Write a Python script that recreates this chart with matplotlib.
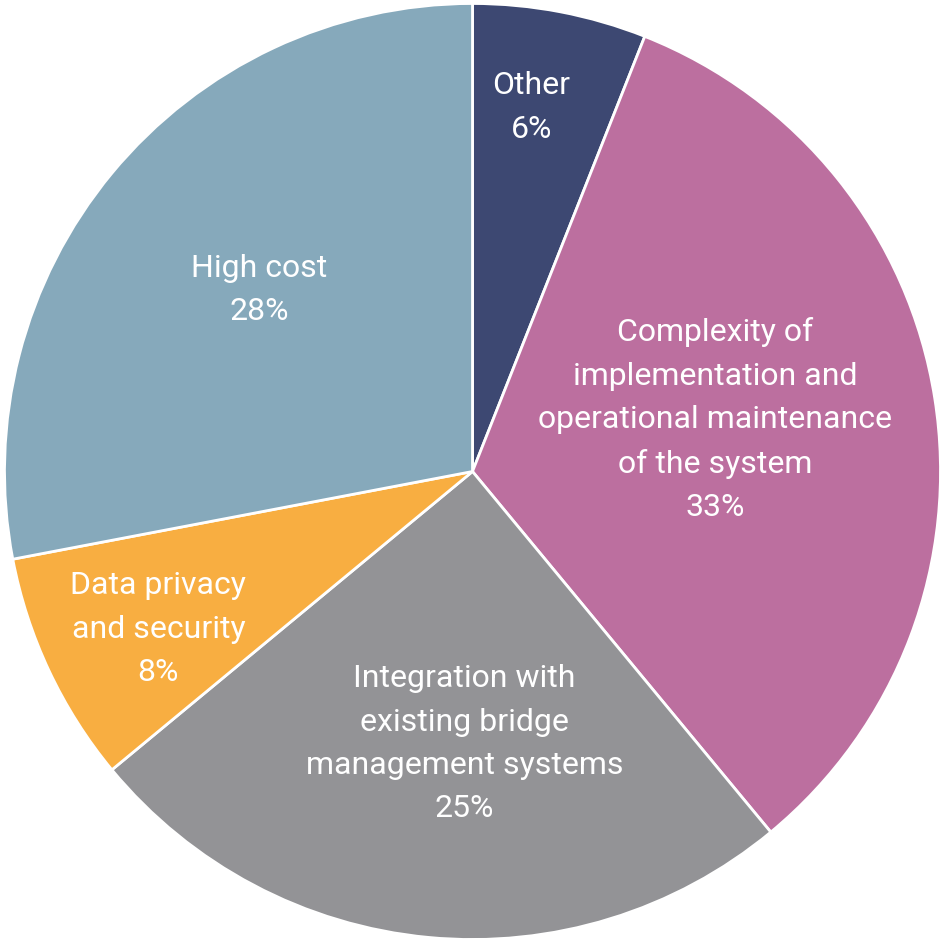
import matplotlib
matplotlib.use("Agg")
import matplotlib.pyplot as plt
import numpy as np

categories = ["Other",
              "Complexity of\nimplementation and\noperational maintenance\nof the system",
              "Integration with\nexisting bridge\nmanagement systems",
              "Data privacy\nand security",
              "High cost"]
values = [6, 33, 25, 8, 28]
colors = ["#3d4872", "#bc6f9f", "#939396", "#f8ae41", "#86a9bb"]
label_r = [0.79, 0.53, 0.58, 0.75, 0.60]
label_dang = [1.6, 3.3, 3.7, 1.3, -0.9]

fig = plt.figure(figsize=(9.45, 9.45), dpi=100)
ax = fig.add_axes([0, 0, 1, 1])
R = 468 / 472.5
wedges, _ = ax.pie(values, colors=colors, startangle=90, counterclock=False,
                   radius=R, center=(0, 0),
                   wedgeprops=dict(edgecolor="white", linewidth=2))
total = sum(values)
cum = 0
for i, (c, v) in enumerate(zip(categories, values)):
    mid = 90 - (cum + v / 2) / total * 360 + label_dang[i]
    cum += v
    r = label_r[i] * R
    x, y = r * np.cos(np.radians(mid)), r * np.sin(np.radians(mid))
    ax.text(x, y, f"{c}\n{v}%", ha="center", va="center", color="white",
            fontsize=23, family="Roboto", linespacing=1.62)
ax.set_xlim(-1, 1)
ax.set_ylim(-1, 1)
ax.set_aspect("equal")
ax.axis("off")
fig.savefig("out.png", dpi=100)
